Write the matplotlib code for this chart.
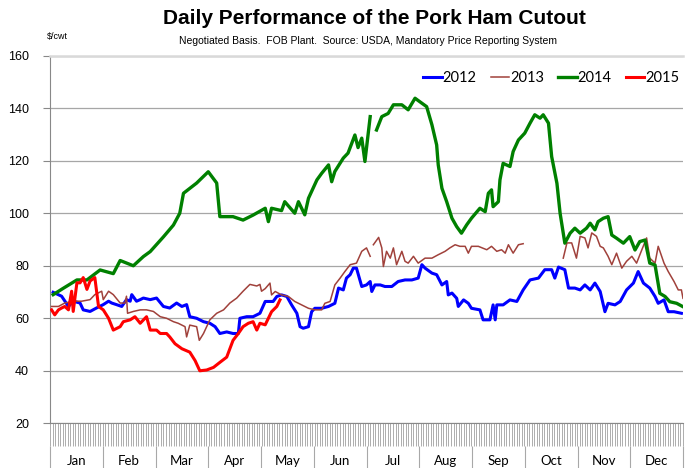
import numpy as np
import matplotlib.pyplot as plt

# x positions are in months from Jan 1 (0..12)
x2012 = [0.06, 0.22, 0.35, 0.44, 0.57, 0.63, 0.76, 0.88, 1.01, 1.11, 1.17, 1.26, 1.36, 1.45, 1.52, 1.55,
         1.64, 1.71, 1.77, 1.90, 2.02, 2.15, 2.27, 2.40, 2.50, 2.59, 2.65, 2.78, 2.91, 3.03, 3.13, 3.22,
         3.35, 3.47, 3.57, 3.60, 3.73, 3.85, 3.98, 4.08, 4.23, 4.30, 4.39, 4.49, 4.58, 4.68, 4.74, 4.80,
         4.90, 4.96, 5.02, 5.15, 5.28, 5.40, 5.47, 5.56, 5.62, 5.69, 5.75, 5.81, 5.91, 6.00, 6.07, 6.10,
         6.16, 6.26, 6.35, 6.48, 6.60, 6.73, 6.86, 6.98, 7.05, 7.11, 7.24, 7.33, 7.43, 7.52, 7.55, 7.62,
         7.71, 7.74, 7.84, 7.93, 7.99, 8.15, 8.21, 8.34, 8.40, 8.44, 8.47, 8.59, 8.72, 8.85, 8.97, 9.10,
         9.26, 9.38, 9.51, 9.57, 9.64, 9.76, 9.83, 9.95, 10.05, 10.14, 10.24, 10.33, 10.43, 10.52, 10.58,
         10.71, 10.81, 10.93, 11.06, 11.15, 11.25, 11.37, 11.47, 11.53, 11.64, 11.72, 11.83, 11.97]
y2012 = [69.9, 68.4, 64.5, 66.5, 65.8, 63.2, 62.6, 63.9, 65.2, 66.5, 65.8, 65.2, 64.5, 67.1, 66.5, 69.0,
         66.5, 67.1, 67.7, 67.1, 67.7, 64.5, 63.9, 65.8, 64.5, 65.2, 60.6, 60.0, 58.7, 58.1, 56.8, 54.2,
         54.8, 54.2, 54.2, 60.0, 60.6, 60.6, 61.9, 66.4, 66.4, 68.3, 68.9, 68.3, 65.1, 61.9, 56.8, 56.2,
         56.8, 62.5, 63.8, 63.8, 64.5, 65.7, 71.5, 70.8, 75.3, 76.6, 79.1, 79.1, 72.1, 72.7, 74.0, 70.2,
         72.7, 72.7, 72.1, 72.1, 74.0, 74.6, 74.6, 75.3, 80.4, 79.1, 77.2, 76.6, 72.7, 74.0, 68.9, 69.6,
         67.6, 64.5, 67.0, 65.7, 63.8, 63.2, 59.4, 59.4, 65.1, 59.4, 65.1, 65.1, 67.0, 66.4, 70.8, 74.6,
         75.3, 78.5, 78.5, 75.3, 79.5, 78.5, 71.5, 71.5, 70.8, 72.7, 70.8, 73.4, 70.2, 62.5, 65.7,
         65.1, 66.4, 70.8, 73.4, 77.8, 73.4, 71.5, 68.3, 65.7, 67.0, 62.5, 62.5, 61.9]

x2013 = [0.03, 0.16, 0.28, 0.44, 0.60, 0.76, 0.85, 0.98, 1.01, 1.11, 1.20, 1.33, 1.42, 1.45, 1.47, 1.58,
         1.71, 1.83, 1.96, 2.09, 2.21, 2.34, 2.43, 2.56, 2.59, 2.65, 2.78, 2.83, 2.91, 3.03, 3.16, 3.29,
         3.41, 3.54, 3.66, 3.79, 3.92, 3.98, 4.01, 4.08, 4.17, 4.20, 4.27, 4.39, 4.52, 4.64, 4.77, 4.90,
         5.02, 5.15, 5.21, 5.31, 5.40, 5.50, 5.59, 5.69, 5.81, 5.91, 6.00, 6.07, 6.10, 6.13, 6.23, 6.29,
         6.32, 6.38, 6.45, 6.51, 6.57, 6.67, 6.73, 6.79, 6.89, 6.98, 7.11, 7.24, 7.36, 7.49, 7.58, 7.68,
         7.77, 7.87, 7.93, 7.99, 8.12, 8.28, 8.37, 8.47, 8.56, 8.63, 8.69, 8.78, 8.88, 8.97, 9.30, 9.73,
         9.80, 9.89, 9.98, 10.05, 10.14, 10.20, 10.27, 10.36, 10.43, 10.49, 10.58, 10.65, 10.74, 10.84,
         10.93, 11.03, 11.12, 11.22, 11.31, 11.37, 11.47, 11.53, 11.64, 11.72, 11.83, 11.91, 11.97, 12.0]
y2013 = [64.5, 64.5, 65.8, 66.5, 66.5, 67.1, 69.0, 70.3, 67.1, 70.3, 69.0, 65.8, 65.8, 68.4, 61.9, 62.6,
         63.2, 63.2, 62.6, 60.6, 60.0, 58.7, 58.1, 56.8, 52.9, 57.4, 56.8, 51.6, 54.2, 59.4, 61.9, 63.2,
         65.8, 67.7, 70.3, 72.9, 72.3, 72.9, 70.3, 71.3, 73.4, 68.9, 70.2, 68.9, 68.3, 66.4, 65.1, 63.8,
         63.2, 63.2, 65.7, 66.4, 72.7, 75.3, 77.8, 80.4, 81.0, 85.5, 86.8, 83.6, np.nan, 88.0, 90.8, 86.8,
         79.7, 85.5, 82.9, 86.8, 80.4, 85.5, 81.7, 81.0, 83.6, 81.0, 82.9, 82.9, 84.2, 85.5, 86.8, 88.0,
         87.4, 87.4, 84.8, 87.4, 87.4, 86.1, 87.4, 85.5, 86.1, 84.8, 88.0, 84.8, 88.0, 88.4, np.nan, 82.9,
         88.7, 88.7, 82.9, 91.2, 90.6, 86.8, 92.5, 91.2, 87.4, 86.8, 83.6, 80.4, 84.8, 79.1,
         81.7, 83.6, 81.0, 86.1, 90.6, 82.9, 81.0, 87.4, 81.0, 77.8, 74.0, 70.8, 70.8, 67.6]

x2014 = [0.06, 0.25, 0.51, 0.70, 0.95, 1.20, 1.33, 1.58, 1.77, 1.90, 2.15, 2.34, 2.46, 2.53, 2.78, 3.00,
         3.16, 3.22, 3.47, 3.66, 3.85, 4.08, 4.14, 4.20, 4.39, 4.45, 4.64, 4.71, 4.83, 4.90, 5.06, 5.15,
         5.28, 5.34, 5.40, 5.56, 5.65, 5.78, 5.84, 5.91, 5.97, 6.07, 6.13, 6.19, 6.29, 6.41, 6.51, 6.67,
         6.79, 6.92, 7.05, 7.14, 7.24, 7.33, 7.36, 7.43, 7.52, 7.62, 7.71, 7.80, 7.90, 7.99, 8.15, 8.25,
         8.31, 8.37, 8.40, 8.50, 8.53, 8.59, 8.72, 8.78, 8.88, 9.00, 9.10, 9.19, 9.29, 9.35, 9.45, 9.51,
         9.61, 9.67, 9.76, 9.86, 9.95, 10.05, 10.17, 10.24, 10.33, 10.39, 10.49, 10.58, 10.65, 10.74,
         10.87, 10.99, 11.09, 11.18, 11.28, 11.37, 11.47, 11.56, 11.66, 11.75, 11.88, 12.00]
y2014 = [69.0, 71.4, 74.6, 74.6, 78.4, 77.0, 82.0, 80.0, 83.5, 85.4, 91.0, 95.5, 100.0, 107.6, 111.5, 115.8,
         111.5, 98.7, 98.7, 97.4, 99.3, 101.9, 96.8, 101.9, 101.0, 104.4, 100.0, 104.4, 99.4, 105.7, 112.7, 115.2,
         118.4, 112.0, 115.9, 121.0, 122.9, 129.8, 125.0, 128.6, 119.7, 136.8, np.nan, 131.7, 136.8, 138.0, 141.3, 141.3,
         139.4, 143.8, 141.9, 140.6, 133.7, 126.0, 118.4, 109.5, 104.4, 98.1, 94.9, 92.4, 95.6, 98.1, 101.9, 100.6,
         107.6, 108.9, 102.5, 104.4, 112.7, 119.0, 117.8, 123.5, 127.9, 130.5, 134.3, 137.5, 136.2, 137.5, 134.3, 121.6,
         111.4, 100.0, 88.6, 92.4, 94.3, 92.4, 94.3, 96.2, 93.7, 96.8, 98.1, 98.7, 91.7, 90.5,
         88.6, 91.1, 86.0, 89.2, 89.8, 81.0, 80.3, 69.5, 68.3, 66.3, 65.7, 64.4]

x2015 = [0.03, 0.09, 0.16, 0.22, 0.28, 0.35, 0.41, 0.44, 0.51, 0.57, 0.63, 0.70, 0.76, 0.85, 0.92, 1.01,
         1.11, 1.20, 1.33, 1.39, 1.52, 1.61, 1.71, 1.83, 1.90, 2.02, 2.09, 2.21, 2.27, 2.37, 2.50, 2.65,
         2.75, 2.84, 2.97, 3.10, 3.22, 3.35, 3.47, 3.57, 3.66, 3.76, 3.85, 3.92, 3.98, 4.08, 4.14, 4.20,
         4.30, 4.36]
y2015 = [63.2, 61.3, 63.2, 63.9, 64.5, 63.2, 70.3, 62.6, 73.5, 73.5, 75.5, 71.0, 74.2, 75.5, 64.5, 63.2,
         60.0, 55.5, 56.8, 58.7, 59.4, 60.6, 58.1, 60.6, 55.5, 55.5, 54.2, 54.2, 52.9, 50.3, 48.4, 47.1,
         43.9, 40.0, 40.3, 41.3, 43.2, 45.2, 51.6, 54.2, 56.8, 58.1, 58.7, 55.5, 58.1, 57.5, 60.0, 62.5,
         64.5, 67.0]

months = ['Jan', 'Feb', 'Mar', 'Apr', 'May', 'Jun', 'Jul', 'Aug', 'Sep', 'Oct', 'Nov', 'Dec']
yticks = [20, 40, 60, 80, 100, 120, 140, 160]

fig = plt.figure(figsize=(6.88, 4.68), dpi=100)
ax = fig.add_axes([50/688, 1-423.3/468, 633/688, 367.6/468])

ax.plot(x2012, y2012, color='#0000FF', lw=2.2, label='2012', zorder=3)
ax.plot(x2013, y2013, color='#A0413B', lw=1.1, label='2013', zorder=3)
ax.plot(x2014, y2014, color='#008000', lw=2.4, label='2014', zorder=3)
ax.plot(x2015, y2015, color='#FF0000', lw=2.2, label='2015', zorder=4)

ax.set_xlim(0, 12)
ax.set_ylim(20, 160)
ax.set_yticks(yticks)
ax.set_yticklabels([str(v) for v in yticks], fontsize=9, family='Liberation Sans')
ax.tick_params(axis='y', direction='out', length=5, color='#888888', pad=10)
ax.yaxis.grid(True, color='#A6A6A6', lw=0.9)
ax.set_axisbelow(True)

# daily tick marks on the category axis
ax.set_xticks(np.linspace(0, 12, 252))
ax.set_xticklabels([])
ax.tick_params(axis='x', which='major', direction='out', length=16.5, width=0.6, color='#A0A0A0')
ax.set_xticks(np.arange(12) + 0.5, minor=True)
ax.set_xticklabels(months, minor=True, fontsize=9.5, family='Lato')
ax.tick_params(axis='x', which='minor', length=0, pad=23)

# month separators under the tick band
trans = ax.get_xaxis_transform()
ax.vlines(np.arange(13), -0.062, -0.125, transform=trans, color='#A8A8A8', lw=0.8, clip_on=False)

ax.spines['right'].set_visible(False)
ax.spines['top'].set_color('#D9D9D9')
ax.spines['top'].set_linewidth(1.8)
ax.spines['left'].set_color('#888888')
ax.spines['bottom'].set_color('#888888')

leg = ax.legend(loc='upper right', ncol=4, frameon=False, handlelength=1.25,
                handletextpad=0.05, columnspacing=1.0, bbox_to_anchor=(1.01, 0.985),
                borderaxespad=0.3, prop={'family': 'Lato', 'size': 10.5})

fig.text(374/688, 1-18/468, 'Daily Performance of the Pork Ham Cutout', ha='center', va='center',
         fontsize=15, fontweight='bold', family='Liberation Sans')
fig.text(368/688, 1-41/468, 'Negotiated Basis.  FOB Plant.  Source: USDA, Mandatory Price Reporting System',
         ha='center', va='center', fontsize=7.5, family='Liberation Sans')
fig.text(47/688, 1-37/468, '$/cwt', ha='left', va='center', fontsize=6.5, family='Liberation Sans')

fig.savefig('out.png', dpi=100)
